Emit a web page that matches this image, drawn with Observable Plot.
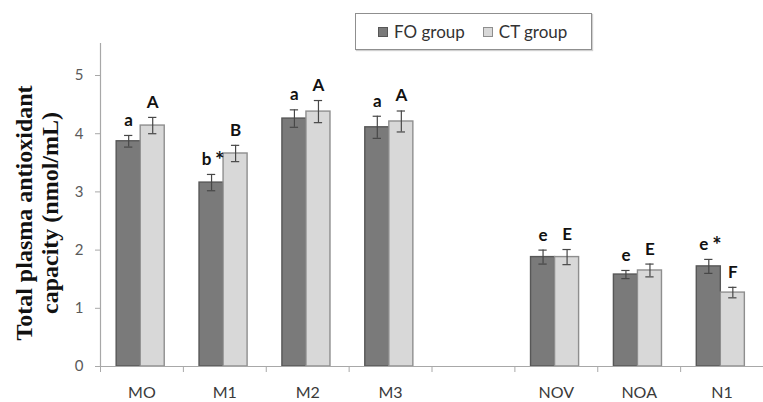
<!DOCTYPE html>
<html>
<head>
<meta charset="utf-8">
<script src="https://cdn.jsdelivr.net/npm/d3@7"></script>
<script src="https://cdn.jsdelivr.net/npm/@observablehq/plot@0.6"></script>
<style>
  html, body { margin: 0; padding: 0; background: #fff; }
  #wrap { position: relative; width: 763px; height: 402px; }
  #legend {
    position: absolute; left: 355px; top: 13px; width: 235px; height: 35px;
    border: 1px solid #8f8f8f; box-shadow: 1px 1px 1px #d0d0d0;
    font-family: Lato, "Open Sans", sans-serif; font-size: 17px; color: #333;
    display: flex; align-items: center; background: #fff;
  }
  .item { display: flex; align-items: center; }
  .sw { width: 10px; height: 10px; box-sizing: border-box; margin-right: 6px; }
</style>
</head>
<body>
<div id="wrap"></div>
<script>
// ---- data ----
const categories = ["MO", "M1", "M2", "M3", "NOV", "NOA", "N1"];
const axisSlots  = ["MO", "M1", "M2", "M3", "", "NOV", "NOA", "N1"];
const seriesNames = ["FO group", "CT group"];
const foValues = [3.87, 3.16, 4.26, 4.11, 1.88, 1.58, 1.72];
const foErrors = [0.10, 0.14, 0.15, 0.19, 0.12, 0.07, 0.12];
const ctValues = [4.14, 3.66, 4.38, 4.21, 1.88, 1.65, 1.27];
const ctErrors = [0.14, 0.14, 0.19, 0.18, 0.13, 0.11, 0.09];
const foLetters = ["a", "b", "a", "a", "e", "e", "e"];
const ctLetters = ["A", "B", "A", "A", "E", "E", "F"];
const foStars = [false, true, false, false, false, false, true];
const ctStars = [false, false, false, false, false, false, false];
const yTicks = [0, 1, 2, 3, 4, 5];
const yTitle = "Total plasma antioxidant\ncapacity (nmol/mL)";

// ---- layout / style ----
const barStart = 0.195, barWidth = 0.29, capHalf = 0.05;
const fills = ["#7a7a7a", "#d8d8d8"];
const strokes = ["#575757", "#8e8e8e"];
const sans = "Lato, 'Open Sans', sans-serif";

const rows = [];
categories.forEach((c, i) => {
  const slot = axisSlots.indexOf(c);
  [[foValues, foErrors, foLetters, foStars], [ctValues, ctErrors, ctLetters, ctStars]].forEach(([v, e, l, s], k) => {
    const x1 = slot + barStart + k * barWidth;
    rows.push({
      cat: c, series: seriesNames[k], k,
      x1, x2: x1 + barWidth, xc: x1 + barWidth / 2,
      value: v[i], err: e[i], lo: v[i] - e[i], hi: v[i] + e[i],
      letter: l[i], star: s[i]
    });
  });
});

const letterStyle = { fontSize: 17, fontWeight: "bold", fill: "#111", fontFamily: sans };

const chart = Plot.plot({
  width: 763, height: 402,
  marginLeft: 100, marginRight: 0, marginTop: 43, marginBottom: 36,
  x: { type: "linear", domain: [0, axisSlots.length], axis: null },
  y: { domain: [0, 5.55], axis: null },
  style: { background: "#fff", fontFamily: sans },
  marks: [
    Plot.rectY(rows, {
      x1: "x1", x2: "x2", y1: 0, y2: "value",
      fill: d => fills[d.k], stroke: d => strokes[d.k], strokeWidth: 1.4
    }),
    Plot.ruleX(rows, { x: "xc", y1: "lo", y2: "hi", stroke: "#474747", strokeWidth: 1.2 }),
    Plot.ruleY(rows, { y: "hi", x1: d => d.xc - capHalf, x2: d => d.xc + capHalf, stroke: "#474747", strokeWidth: 1.2 }),
    Plot.ruleY(rows, { y: "lo", x1: d => d.xc - capHalf, x2: d => d.xc + capHalf, stroke: "#474747", strokeWidth: 1.2 }),
    // significance letters
    Plot.text(rows.filter(d => !d.star), { x: "xc", y: "hi", text: "letter", dy: -15, ...letterStyle }),
    Plot.text(rows.filter(d => d.star), { x: "xc", y: "hi", text: "letter", dy: -15, dx: -5, ...letterStyle }),
    Plot.text(rows.filter(d => d.star), { x: "xc", y: "hi", text: () => "*", dy: -13, dx: 8, ...letterStyle, fontSize: 22 }),
    // axis lines
    Plot.ruleX([0], { stroke: "#a8a8a8", strokeWidth: 1.2 }),
    Plot.ruleY([0], { stroke: "#a8a8a8", strokeWidth: 1.2 }),
    Plot.axisY({
      ticks: yTicks, tickSize: 5, tickPadding: 12, tickFormat: d3.format("d"), label: null,
      fontSize: 15, fontFamily: sans, color: "#5a5a5a", stroke: "#a8a8a8"
    }),
    // y title
    Plot.text([yTitle], {
      text: d => d, frameAnchor: "left", rotate: -90, textAnchor: "middle", lineAnchor: "top",
      lineHeight: 1.12, dx: -88, dy: 8,
      fontSize: 24, fontFamily: "'Liberation Serif', 'Times New Roman', serif", fontWeight: "bold", fill: "#111"
    }),
    Plot.axisX({
      ticks: d3.range(0, axisSlots.length + 1), tickSize: 6, tickFormat: () => "",
      label: null, stroke: "#a8a8a8"
    }),
    Plot.axisX({
      ticks: axisSlots.map((s, i) => i + 0.5), tickSize: 0, tickPadding: 20,
      tickFormat: v => axisSlots[Math.floor(v)], label: null,
      fontSize: 16, fontFamily: sans, color: "#3a3a3a"
    })
  ]
});

const wrap = document.getElementById("wrap");
wrap.appendChild(chart);

const legend = document.createElement("div");
legend.id = "legend";
seriesNames.forEach((n, k) => {
  const item = document.createElement("div");
  item.className = "item";
  item.style.marginLeft = k === 0 ? "22px" : "18px";
  const sw = document.createElement("div");
  sw.className = "sw";
  sw.style.background = fills[k];
  sw.style.border = "1px solid " + strokes[k];
  const t = document.createElement("span");
  t.textContent = n;
  item.appendChild(sw); item.appendChild(t);
  legend.appendChild(item);
});
wrap.appendChild(legend);
</script>
</body>
</html>
